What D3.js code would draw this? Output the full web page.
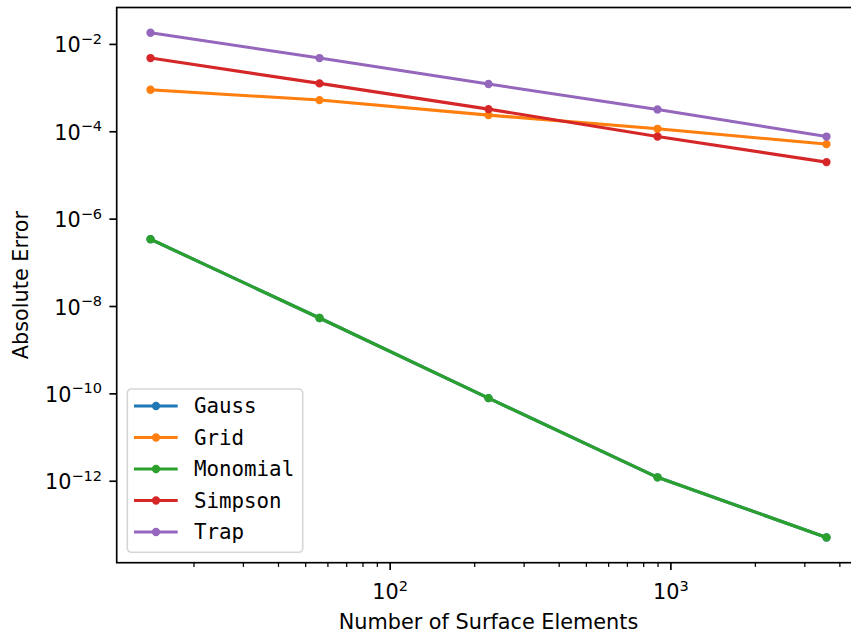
<!DOCTYPE html>
<html>
<head>
<meta charset="utf-8">
<script src="https://cdn.jsdelivr.net/npm/d3@7"></script>
<style>
  body { margin: 0; background: #fff; }
  text { font-family: "DejaVu Sans", sans-serif; fill: #000; }
</style>
</head>
<body>
<svg id="chart" width="851" height="635"></svg>
<script>
// number of surface elements
var elements = [14, 56, 224, 896, 3584];

// absolute error per method
var gauss    = [3.47e-7, 5.45e-9, 7.98e-11, 1.23e-12, 5.16e-14];
var grid     = [9.17e-4, 5.32e-4, 2.41e-4, 1.17e-4, 5.21e-5];
var monomial = [3.47e-7, 5.45e-9, 7.98e-11, 1.23e-12, 5.16e-14];
var simpson  = [4.87e-3, 1.28e-3, 3.30e-4, 7.78e-5, 2.02e-5];
var trap     = [1.85e-2, 4.87e-3, 1.24e-3, 3.24e-4, 7.78e-5];

var methods = ['Gauss', 'Grid', 'Monomial', 'Simpson', 'Trap'];
var colors  = ['#1f77b4', '#ff7f0e', '#2ca02c', '#d62728', '#9467bd'];
var series  = [gauss, grid, monomial, simpson, trap];

var xMajor = [100, 1000];
var xMinor = [20, 30, 40, 50, 60, 70, 80, 90, 200, 300, 400, 500, 600, 700, 800, 900, 2000, 3000, 4000];
var yMajor = [-2, -4, -6, -8, -10, -12];   // exponents

var axL = 116.7, axT = 7.5, axW = 743.6, axH = 555.2;
var fs = 20.8;

var svg = d3.select('#chart');

// matplotlib style 5% margins in log space
function logLimits(vals) {
  var lo = Math.log10(d3.min(vals)), hi = Math.log10(d3.max(vals));
  var m = (hi - lo) * 0.05;
  return [Math.pow(10, lo - m), Math.pow(10, hi + m)];
}
var allY = [].concat.apply([], series);
var x = d3.scaleLog().domain(logLimits(elements)).range([axL, axL + axW]);
var y = d3.scaleLog().domain(logLimits(allY)).range([axT + axH, axT]);

svg.append('clipPath').attr('id', 'clip')
  .append('rect').attr('x', axL).attr('y', axT).attr('width', axW).attr('height', axH);

// lines and markers
var line = d3.line().x(function(d, i) { return x(elements[i]); }).y(function(d) { return y(d); });
var plot = svg.append('g').attr('clip-path', 'url(#clip)');
series.forEach(function(s, k) {
  var g = plot.append('g');
  g.append('path').attr('d', line(s)).attr('fill', 'none')
    .attr('stroke', colors[k]).attr('stroke-width', 3.1).attr('stroke-linejoin', 'round').attr('stroke-linecap', 'square');
  g.selectAll('circle').data(s).enter().append('circle')
    .attr('cx', function(d, i) { return x(elements[i]); })
    .attr('cy', function(d) { return y(d); })
    .attr('r', 3.1).attr('fill', colors[k]).attr('stroke', colors[k]).attr('stroke-width', 2.1);
});

// spines
svg.append('rect').attr('x', axL).attr('y', axT).attr('width', axW).attr('height', axH)
  .attr('fill', 'none').attr('stroke', '#000').attr('stroke-width', 1.67);

// x axis
var xAxis = svg.append('g');
xAxis.selectAll('line.maj').data(xMajor).enter().append('line')
  .attr('x1', function(d) { return x(d); }).attr('x2', function(d) { return x(d); })
  .attr('y1', axT + axH).attr('y2', axT + axH + 7.3)
  .attr('stroke', '#000').attr('stroke-width', 1.67);
xAxis.selectAll('line.min').data(xMinor).enter().append('line')
  .attr('x1', function(d) { return x(d); }).attr('x2', function(d) { return x(d); })
  .attr('y1', axT + axH).attr('y2', axT + axH + 4.2)
  .attr('stroke', '#000').attr('stroke-width', 1.25);

function powLabel(sel, exp) {
  sel.append('tspan').text('10');
  sel.append('tspan').attr('dy', -8.5).attr('font-size', fs * 0.7).text(String(exp).replace('-', '\u2212'));
}

xAxis.selectAll('text').data(xMajor).enter().append('text')
  .attr('x', function(d) { return x(d); }).attr('y', 599)
  .attr('text-anchor', 'middle').attr('font-size', fs)
  .each(function(d) { powLabel(d3.select(this), Math.round(Math.log10(d))); });

svg.append('text').attr('x', axL + axW / 2).attr('y', 629)
  .attr('text-anchor', 'middle').attr('font-size', fs).text('Number of Surface Elements');

// y axis
var yAxis = svg.append('g');
yAxis.selectAll('line').data(yMajor).enter().append('line')
  .attr('x1', axL - 7.3).attr('x2', axL)
  .attr('y1', function(d) { return y(Math.pow(10, d)); }).attr('y2', function(d) { return y(Math.pow(10, d)); })
  .attr('stroke', '#000').attr('stroke-width', 1.67);
yAxis.selectAll('text').data(yMajor).enter().append('text')
  .attr('x', axL - 14.6).attr('y', function(d) { return y(Math.pow(10, d)) + 8; })
  .attr('text-anchor', 'end').attr('font-size', fs)
  .each(function(d) { powLabel(d3.select(this), d); });

svg.append('text').attr('transform', 'translate(28.3,' + (axT + axH / 2) + ') rotate(-90)')
  .attr('text-anchor', 'middle').attr('font-size', fs).text('Absolute Error');

// legend
var leg = svg.append('g').attr('transform', 'translate(127.3,389)');
leg.append('rect').attr('width', 175.4).attr('height', 163.3).attr('rx', 4)
  .attr('fill', '#fff').attr('fill-opacity', 0.8).attr('stroke', '#d6d6d6').attr('stroke-width', 1.6);
methods.forEach(function(m, k) {
  var yy = 17 + k * 31.5;
  leg.append('line').attr('x1', 6.7).attr('x2', 50.4).attr('y1', yy).attr('y2', yy)
    .attr('stroke', colors[k]).attr('stroke-width', 3.1);
  leg.append('circle').attr('cx', 28.7).attr('cy', yy).attr('r', 3.1)
    .attr('fill', colors[k]).attr('stroke', colors[k]).attr('stroke-width', 2.1);
  leg.append('text').attr('x', 66.7).attr('y', yy + 7.3).attr('font-size', fs)
    .style('font-family', '"DejaVu Sans Mono", monospace').text(m);
});
</script>
</body>
</html>
